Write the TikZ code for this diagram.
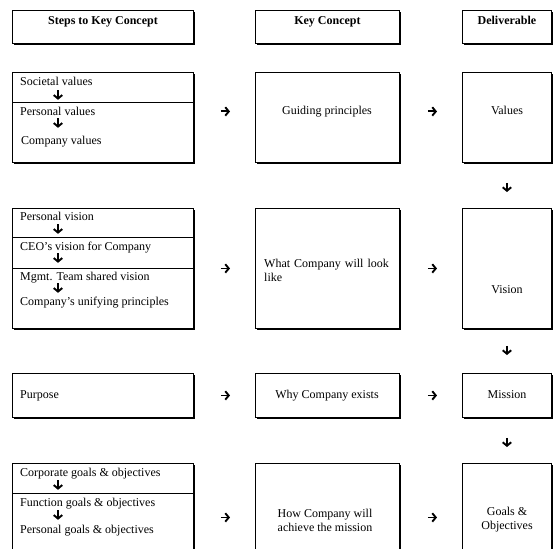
\documentclass[tikz,border=0pt]{standalone}
\usepackage{fontspec}
\setmainfont{Liberation Serif}
\usetikzlibrary{arrows.meta,shadows}
\begin{document}
\begin{tikzpicture}[x=1pt,y=-1pt,
  box/.style={draw=black, line width=0.9pt, fill=white, anchor=north west, inner sep=0pt,
    drop shadow={shadow xshift=1.5pt, shadow yshift=-1.5pt, fill=black, opacity=1}},
  stepsbox/.style={box, minimum width=181pt},
  keybox/.style={box, minimum width=144pt},
  delbox/.style={box, minimum width=89pt},
  txt/.style={inner sep=0pt, text height=8pt, text depth=2pt, font=\fontsize{12}{14}\selectfont},
  hd/.style={txt, font=\fontsize{12}{14}\selectfont\bfseries},
  multi/.style={inner sep=0pt, align=center, font=\fontsize{12}{14}\selectfont},
  arr/.style={line width=1.9pt, -{Straight Barb[length=3.5pt,width=8.5pt]}},
  divider/.style={line width=0.8pt}
]
\useasboundingbox (0,0) rectangle (553,548);
\clip (0,0) rectangle (553,548);

% column headings
\node[stepsbox, minimum height=33pt] (H1) at (12,10) {};
\node[keybox,   minimum height=33pt] (H2) at (255,10) {};
\node[delbox,   minimum height=33pt] (H3) at (462,10) {};
\node[hd] (h1) at ([yshift=-12pt]H1.north) {Steps to Key Concept};
\node[hd] (h2) at ([yshift=-12pt]H2.north) {Key Concept};
\node[hd] (h3) at ([yshift=-12pt]H3.north) {Deliverable};

% row boxes
\node[stepsbox, minimum height=90pt]  (L1) at (12,72) {};
\node[keybox,   minimum height=90pt]  (K1) at (255,72) {};
\node[delbox,   minimum height=90pt]  (D1) at (462,72) {};
\node[stepsbox, minimum height=120pt] (L2) at (12,208) {};
\node[keybox,   minimum height=120pt] (K2) at (255,208) {};
\node[delbox,   minimum height=120pt] (D2) at (462,208) {};
\node[stepsbox, minimum height=44pt]  (L3) at (12,373) {};
\node[keybox,   minimum height=44pt]  (K3) at (255,373) {};
\node[delbox,   minimum height=44pt]  (D3) at (462,373) {};
\node[stepsbox, minimum height=115pt] (L4) at (12,463) {};
\node[keybox,   minimum height=115pt] (K4) at (255,463) {};
\node[delbox,   minimum height=115pt] (D4) at (462,463) {};

% dividers inside the step boxes
\draw[divider] (L1.west |- 0,102) -- (L1.east |- 0,102);
\draw[divider] (L2.west |- 0,237) -- (L2.east |- 0,237);
\draw[divider] (L2.west |- 0,268) -- (L2.east |- 0,268);
\draw[divider] (L4.west |- 0,493) -- (L4.east |- 0,493);

% steps
\node[txt, anchor=west] (s11) at (20,83)  {Societal values};
\node[txt, anchor=west] (s12) at (20,113) {Personal values};
\node[txt, anchor=west] (s13) at (21,142) {Company values};
\node[txt, anchor=west] (s21) at (20,217) {Personal vision};
\node[txt, anchor=west] (s22) at (20,247) {CEO's vision for Company};
\node[txt, anchor=west] (s23) at (20,277) {Mgmt. Team shared vision};
\node[txt, anchor=west] (s24) at (20,302) {Company's unifying principles};
\node[txt, anchor=west] (s31) at (20,395) {Purpose};
\node[txt, anchor=west] (s41) at (20,473) {Corporate goals \& objectives};
\node[txt, anchor=west] (s42) at (20,503) {Function goals \& objectives};
\node[txt, anchor=west] (s43) at (20,530) {Personal goals \& objectives};

\coordinate (ax) at (58,0);
\draw[arr, shorten <=2pt, shorten >=8pt] (s11.south -| ax) -- (s12.north -| ax);
\draw[arr, shorten <=0pt, shorten >=9pt] (s12.south -| ax) -- (s13.north -| ax);
\draw[arr, shorten <=2pt, shorten >=8pt] (s21.south -| ax) -- (s22.north -| ax);
\draw[arr, shorten <=1pt, shorten >=9pt] (s22.south -| ax) -- (s23.north -| ax);
\draw[arr, shorten <=1pt, shorten >=4pt] (s23.south -| ax) -- (s24.north -| ax);
\draw[arr, shorten <=2pt, shorten >=8pt] (s41.south -| ax) -- (s42.north -| ax);
\draw[arr, shorten <=2pt, shorten >=5pt] (s42.south -| ax) -- (s43.north -| ax);

% key concepts
\node[txt] (k1) at (327,112) {Guiding principles};
\node[inner sep=0pt, anchor=north west, text width=125pt, align=left,
      font=\fontsize{12}{14}\selectfont] (k2) at (264,259) {What Company will look like};
\node[txt] (k3) at (327,395) {Why Company exists};
\node[multi] (k4) at (325,520) {How Company will\\achieve the mission};

% deliverables
\node[txt] (d1) at (507,112) {Values};
\node[txt] (d2) at (507,290) {Vision};
\node[txt] (d3) at (507,395) {Mission};
\node[multi] (d4) at (507,520) {Goals \&\\Objectives};

% arrows across the rows
\draw[arr, shorten <=27pt, shorten >=25pt] ([yshift=6pt]L1.east) -- ([yshift=6pt]K1.west);
\draw[arr, shorten <=28pt, shorten >=25pt] ([yshift=6pt]K1.east) -- ([yshift=6pt]D1.west);
\draw[arr, shorten <=27pt, shorten >=25pt] (L2.east) -- (K2.west);
\draw[arr, shorten <=28pt, shorten >=25pt] (K2.east) -- (D2.west);
\draw[arr, shorten <=27pt, shorten >=25pt] (L3.east) -- (K3.west);
\draw[arr, shorten <=28pt, shorten >=25pt] (K3.east) -- (D3.west);
\draw[arr, shorten <=27pt, shorten >=25pt] ([yshift=3.5pt]L4.east) -- ([yshift=3.5pt]K4.west);
\draw[arr, shorten <=28pt, shorten >=25pt] ([yshift=3.5pt]K4.east) -- ([yshift=3.5pt]D4.west);

% arrows down the deliverables
\draw[arr, shorten <=20pt, shorten >=16pt] (D1.south) -- (D2.north);
\draw[arr, shorten <=17pt, shorten >=18pt] (D2.south) -- (D3.north);
\draw[arr, shorten <=20pt, shorten >=16pt] (D3.south) -- (D4.north);
\end{tikzpicture}
\end{document}
